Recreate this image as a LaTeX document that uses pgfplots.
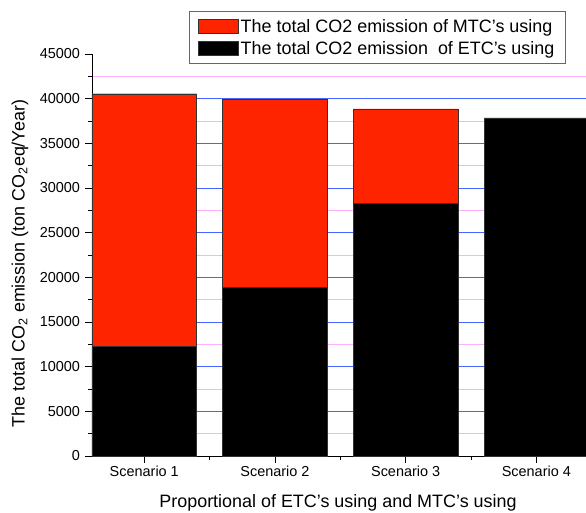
\documentclass[border=0pt]{standalone}
\usepackage{pgfplots}
\pgfplotsset{compat=1.18}
\usepackage{fontspec}
\setmainfont{Liberation Sans}
\definecolor{barred}{RGB}{255,36,0}
\definecolor{majgrid}{RGB}{70,100,255}
\definecolor{mingrid}{RGB}{255,175,255}
\begin{document}
\begin{tikzpicture}
\begin{axis}[
  at={(0bp,0bp)}, anchor=south west,
  scale only axis,
  width=494bp, height=402bp,
  ybar stacked,
  bar width=0.8,
  xmin=0.6, xmax=4.38,
  ymin=0, ymax=45000,
  axis x line*=bottom, axis y line*=left,
  axis line style={-, line width=1pt, black},
  xtick={1,2,3,4},
  xticklabels={Scenario 1,Scenario 2,Scenario 3,Scenario 4},
  minor xtick={1.5,2.5,3.5},
  ytick={0,5000,...,45000},
  minor ytick={2500,7500,...,42500},
  extra y ticks={5000,10000,...,40000},
  extra y tick labels={},
  extra y tick style={ymajorgrids=true, major tick length=0pt},
  tick align=outside,
  major tick length=7bp, minor tick length=4bp,
  tick style={black, line width=0.8pt},
  scaled y ticks=false,
  ticklabel style={font=\fontsize{14.5}{16}\selectfont},
  yticklabel style={xshift=-1.5bp, /pgf/number format/.cd, fixed, 1000 sep={}, assume math mode=true},
  yminorgrids=true, ymajorgrids=false,
  major grid style={majgrid, line width=0.7pt},
  minor grid style={mingrid, line width=0.7pt},
  xlabel={Proportional of ETC's using and MTC's using},
  ylabel={The total CO\textsubscript{2} emission (ton CO\textsubscript{2}eq/Year)},
  label style={font=\fontsize{18}{20}\selectfont},
  xlabel style={at={(axis description cs:0.498,-0.117)}, anchor=center},
  ylabel style={at={(axis description cs:-0.1457,0.479)}, anchor=center},
  legend style={at={(axis description cs:0.196,1.107)}, anchor=north west,
    draw=gray!80!black, line width=0.8pt, font=\fontsize{18}{20}\selectfont,
    row sep=3.5bp, inner xsep=9bp, inner ysep=6bp, cells={anchor=west}},
  legend cell align=left,
  reverse legend,
]
\addplot[fill=black, draw=black!80, line width=0.5pt,
  legend image code/.code={\path[fill=black, draw=black!80, line width=0.5pt] (0bp,-7bp) rectangle (40bp,7bp);}]
  coordinates {(1,12300) (2,18900) (3,28300) (4,37850)};
\addplot[fill=barred, draw=black!80, line width=0.5pt,
  legend image code/.code={\path[fill=barred, draw=black!80, line width=0.5pt] (0bp,-7bp) rectangle (40bp,7bp);}]
  coordinates {(1,28250) (2,21000) (3,10550) (4,0)};
\legend{The total CO2 emission\ \ of ETC's using\hspace{6bp}, The total CO2 emission of MTC's using}
\end{axis}
\pgfresetboundingbox
\path (-92bp,-57bp) rectangle (494bp,456bp);
\end{tikzpicture}
\end{document}
